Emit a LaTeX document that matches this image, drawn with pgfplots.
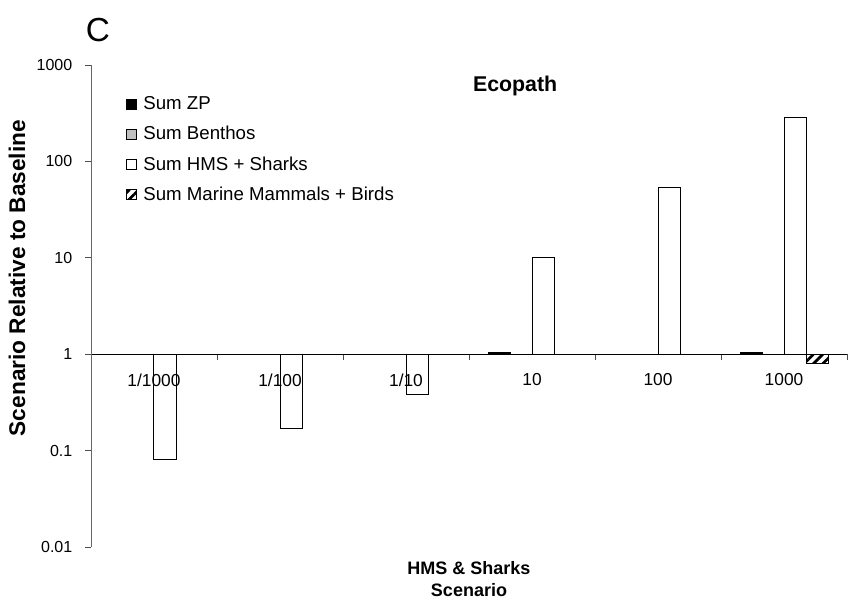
\documentclass[border=0pt]{standalone}
\usepackage{pgfplots}
\pgfplotsset{compat=1.18}
\usepackage{pgfplotstable}
\usepackage{fontspec}
\setmainfont{Liberation Sans}
\usetikzlibrary{patterns.meta}

% Biomass of each group relative to baseline, per HMS & shark scenario
\pgfplotstableread{
x    zp    benthos  hms    mm
0    1     1        0.081  1
1    1     1        0.17   1
2    1     1        0.385  1
3    1.04  1        10.1   1
4    1     1        53     1
5    1.04  1        283    0.80
}\datatable

\begin{document}
\begin{tikzpicture}
\begin{axis}[
  scale only axis,
  width=567pt, height=361.5pt,
  clip=false,
  axis on top,
  ymode=log, ymin=0.01, ymax=1000, log origin y=0,
  xmin=-0.5, xmax=5.5,
  axis y line*=left,
  axis x line*=middle,
  y axis line style={draw=black!60, line width=0.6pt},
  x axis line style={draw=black, line width=0.75pt},
  ybar=0pt, bar width=16.5pt,
  xtick={-0.5,0.5,...,5.5},
  xticklabels={},
  extra x ticks={0,1,2,3,4,5},
  extra x tick labels={\mbox{1/1000},\mbox{1/100},\mbox{1/10},\mbox{10},\mbox{100},\mbox{1000}},
  extra x tick style={major tick length=0pt,
    tick label style={font=\fontsize{13}{15}\selectfont, yshift=-11pt}},
  ytick={0.01,0.1,1,10,100,1000},
  yticklabels={\mbox{0.01},\mbox{0.1},\mbox{1},\mbox{10},\mbox{100},\mbox{1000}},
  yminorticks=false,
  y tick label style={font=\fontsize{12}{13}\selectfont, xshift=-6pt},
  tick align=outside,
  major tick length=4.5pt,
  tick style={draw=black!70, line width=0.6pt},
  legend style={at={(rel axis cs:0.046,0.94)}, anchor=north west,
    draw=none, fill=none, font=\fontsize{14}{16}\selectfont,
    row sep=6.9pt, inner sep=0pt,
    /tikz/every odd column/.append style={column sep=3pt}},
  legend cell align=left,
  legend image code/.code={\draw[#1, line width=0.5pt] (0pt,-3.75pt) rectangle (7.5pt,3.75pt);},
]
\addplot[draw=black, line width=0.75pt, fill=black] table[x=x, y=zp] {\datatable};
\addlegendentry{Sum ZP}
\addplot[draw=black, line width=0.75pt, fill=gray!50] table[x=x, y=benthos] {\datatable};
\addlegendentry{Sum Benthos}
\addplot[draw=black, line width=0.75pt, fill=white] table[x=x, y=hms] {\datatable};
\addlegendentry{Sum HMS + Sharks}
\addplot[draw=black, line width=0.75pt, pattern={Lines[angle=45,distance=5pt,line width=2pt]}, pattern color=black] table[x=x, y=mm] {\datatable};
\addlegendentry{Sum Marine Mammals + Birds}

\coordinate (A) at (rel axis cs:0,0);
\node[font=\bfseries\fontsize{16}{18}\selectfont] at (rel axis cs:0.561,0.956) {Ecopath};
\node[font=\fontsize{25}{27}\selectfont] at ([xshift=5.25pt,yshift=26pt]rel axis cs:0,1) {C};
\node[rotate=90, font=\bfseries\fontsize{17}{19}\selectfont] at ([xshift=-55.5pt]rel axis cs:0,0.558) {Scenario Relative to Baseline};
\node[align=center, font=\bfseries\fontsize{13.5}{16.5}\selectfont] at ([yshift=-24pt]rel axis cs:0.5,0) {HMS \& Sharks\\Scenario};
\end{axis}
\pgfresetboundingbox
\path[use as bounding box] ([xshift=-68.25pt,yshift=-41.25pt]A) rectangle ++(636pt,451.5pt);
\end{tikzpicture}
\end{document}
